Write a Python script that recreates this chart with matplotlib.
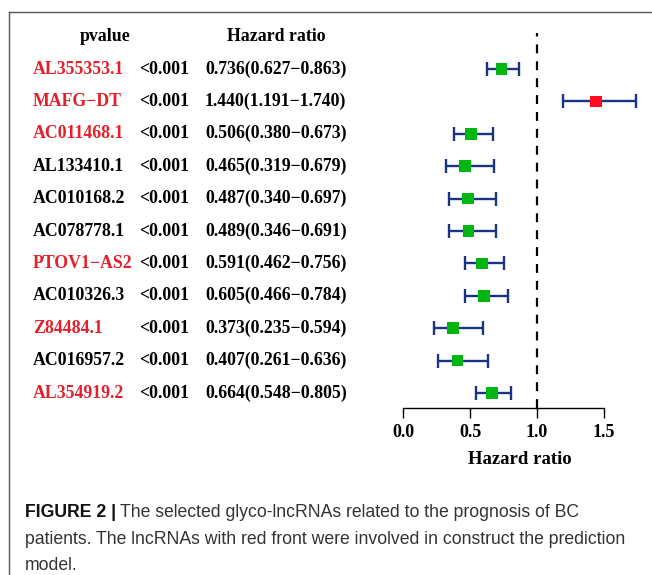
import matplotlib
matplotlib.use("Agg")
import matplotlib.pyplot as plt
from matplotlib.lines import Line2D
from matplotlib import transforms
import numpy as np

# data
genes = ["AL355353.1", "MAFG\u2212DT", "AC011468.1", "AL133410.1", "AC010168.2",
         "AC078778.1", "PTOV1\u2212AS2", "AC010326.3", "Z84484.1", "AC016957.2",
         "AL354919.2"]
pvals = ["<0.001"] * 11
hr = np.array([0.736, 1.440, 0.506, 0.465, 0.487, 0.489, 0.591, 0.605, 0.373, 0.407, 0.664])
lo = np.array([0.627, 1.191, 0.380, 0.319, 0.340, 0.346, 0.462, 0.466, 0.235, 0.261, 0.548])
hi = np.array([0.863, 1.740, 0.673, 0.679, 0.697, 0.691, 0.756, 0.784, 0.594, 0.636, 0.805])
in_model = [True, True, True, False, False, False, True, False, True, False, True]
xticks = [0.0, 0.5, 1.0, 1.5]

W, H = 652, 575
SERIF = "Liberation Serif"
RED_TXT = "#E3202B"
NAVY = "#1A3580"

fig = plt.figure(figsize=(W / 100, H / 100), dpi=100)

def fx(px):
    return px / W

def fy(py):
    return 1 - py / H

# forest axes (pixel placement)
ax_l, ax_r, ax_t, ax_b = 395, 645, 33, 408
ax = fig.add_axes([fx(ax_l), fy(ax_b), (ax_r - ax_l) / W, (ax_b - ax_t) / H])
ppu = 134.0  # pixels per HR unit
ax.set_xlim((ax_l - 403) / ppu, (ax_r - 403) / ppu)
row0, step = 69, 32.4
ax.set_ylim((ax_b - row0) / step, (ax_t - row0) / step)

ypos = np.arange(len(genes))
ax.axvline(1.0, color="black", lw=1.6, dashes=(4, 3.6), zorder=1)
ax.errorbar(hr, ypos, xerr=[hr - lo, hi - hr], fmt="none", ecolor=NAVY,
            elinewidth=1.7, capsize=4.7, capthick=1.7, zorder=2)
box_cols = ["#FF0A1E" if h > 1 else "#00B612" for h in hr]
ax.scatter(hr, ypos, marker="s", s=70, c=box_cols, zorder=3, linewidths=0)

for s in ["top", "right", "left"]:
    ax.spines[s].set_visible(False)
ax.spines["bottom"].set_bounds(0, 1.5)
ax.spines["bottom"].set_linewidth(1.0)
ax.set_yticks([])
ax.set_xticks(xticks)
ax.set_xticklabels([f"{t:.1f}" for t in xticks], fontfamily=SERIF,
                   fontweight="bold", fontsize=13)
ax.tick_params(axis="x", direction="out", length=7.5, width=1.0, pad=4)
ax.set_xlabel("Hazard ratio", fontfamily=SERIF, fontweight="bold",
              fontsize=13.5, labelpad=7)

# text table, y in data rows
tr = transforms.blended_transform_factory(fig.transFigure, ax.transData)
kw = dict(fontfamily=SERIF, fontweight="bold", fontsize=12.8, va="center",
          transform=tr)
fig.text(fx(105), -1, "pvalue", ha="center", **kw)
fig.text(fx(276), -1, "Hazard ratio", ha="center", **kw)
for i in range(len(genes)):
    fig.text(fx(33), i, genes[i], ha="left",
             color=RED_TXT if in_model[i] else "black", **kw)
    fig.text(fx(139), i, pvals[i], ha="left", **kw)
    fig.text(fx(205), i, f"{hr[i]:.3f}({lo[i]:.3f}\u2212{hi[i]:.3f})", ha="left", **kw)

# frame around the panel
fig.add_artist(Line2D([fx(9), 1], [fy(12), fy(12)], color="#555555", lw=1.0))
fig.add_artist(Line2D([fx(9), fx(9)], [fy(12), 0], color="#555555", lw=1.0))

# caption; font size fitted so the second line is as wide as in the picture
cap_font = "Liberation Sans"
line1 = "The selected glyco-lncRNAs related to the prognosis of BC"
line2 = "patients. The lncRNAs with red front were involved in construct the prediction"
line3 = "model."
probe = fig.text(0, 0, line2, fontfamily=cap_font, fontsize=13)
fig.canvas.draw()
w2 = probe.get_window_extent(fig.canvas.get_renderer()).width
probe.remove()
cap_size = 13 * 601 / w2

t1 = fig.text(fx(25), fy(517), "FIGURE 2 |", fontfamily=cap_font,
              fontweight="bold", fontsize=cap_size, color="#111111", va="baseline")
fig.canvas.draw()
bb = t1.get_window_extent(fig.canvas.get_renderer())
fig.text(bb.x1 / fig.bbox.width + fx(4), fy(517), line1,
         fontfamily=cap_font, fontsize=cap_size, color="#333333", va="baseline")
fig.text(fx(25), fy(543.5), line2,
         fontfamily=cap_font, fontsize=cap_size, color="#333333", va="baseline")
fig.text(fx(25), fy(570), line3, fontfamily=cap_font, fontsize=cap_size,
         color="#333333", va="baseline")

fig.savefig("out.png", dpi=100)
